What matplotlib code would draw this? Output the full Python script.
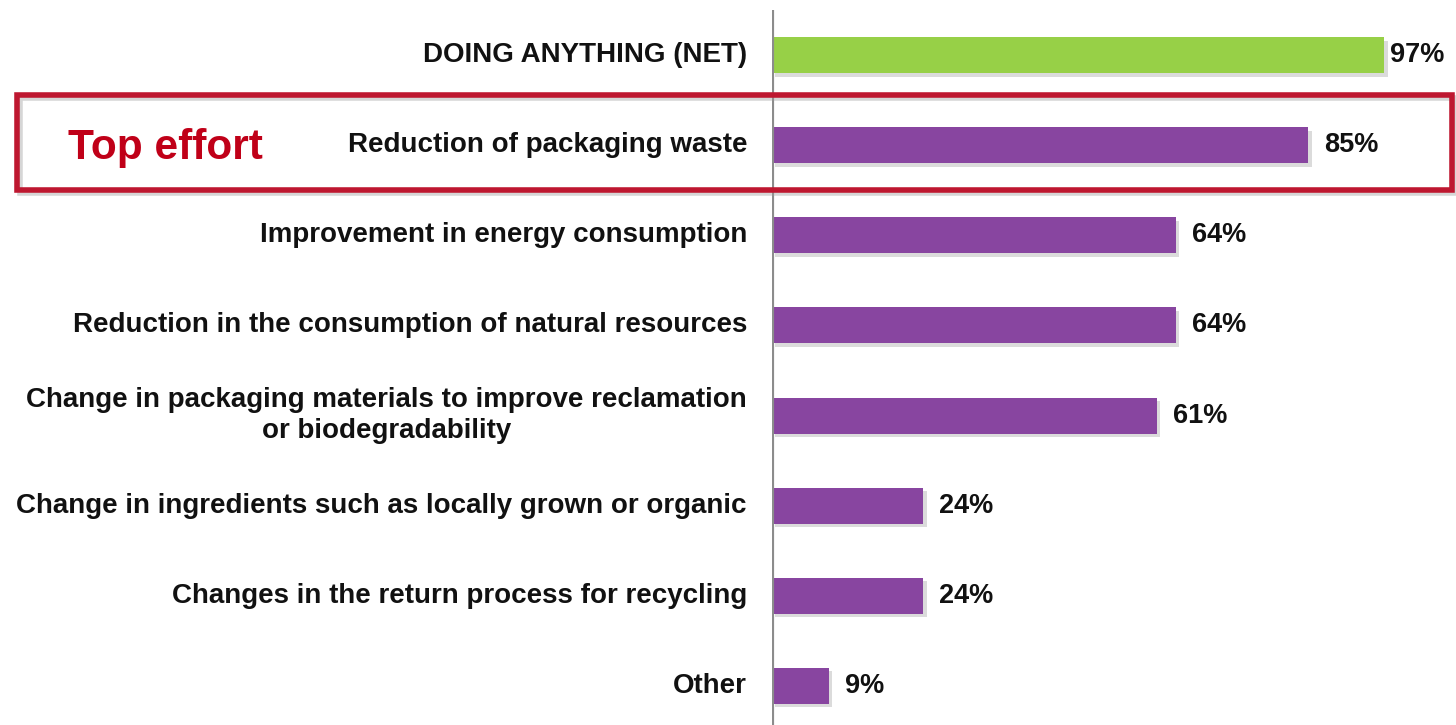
import matplotlib.pyplot as plt
from matplotlib.patches import Rectangle
import matplotlib.patheffects as pe

categories = [
    "DOING ANYTHING (NET)",
    "Reduction of packaging waste",
    "Improvement in energy consumption",
    "Reduction in the consumption of natural resources",
    "Change in packaging materials to improve reclamation\nor biodegradability",
    "Change in ingredients such as locally grown or organic",
    "Changes in the return process for recycling",
    "Other",
]
values = [97, 85, 64, 64, 61, 24, 24, 9]
bar_colors = ["#97D047"] + ["#8845A0"] * 7
callout = "Top effort"

plt.rcParams['font.family'] = ['Liberation Sans', 'DejaVu Sans']

W, H = 1456, 725
PX_PER_PCT = 6.31
fig = plt.figure(figsize=(W / 100, H / 100), dpi=100)
fig.patch.set_facecolor("white")

# axes start at the grey baseline
ax = fig.add_axes([772 / W, 0, 681 / W, 715 / H])
ax.set_xlim(0, 681 / PX_PER_PCT)
ax.set_ylim(7.433, -0.5)

shadow = [pe.SimplePatchShadow(offset=(2.5, -2.5), shadow_rgbFace="#888888", alpha=0.3), pe.Normal()]
ypos = list(range(len(categories)))
bars = ax.barh(ypos, values, height=0.4, color=bar_colors, zorder=2)
for b in bars:
    b.set_path_effects(shadow)

# value labels; the top one is squeezed against the right edge
gaps = [6, 16, 16, 16, 16, 16, 16, 16]
for y, v, g in zip(ypos, values, gaps):
    ax.text(v + g / PX_PER_PCT, y, f"{v}%", va="center", ha="left", fontsize=19.5,
            fontweight="bold", color="#111111", clip_on=False)

for y, label in zip(ypos, categories):
    ax.text(-25 / PX_PER_PCT, y, label, va="center", ha="right", multialignment="center",
            fontsize=20, fontweight="bold", color="#111111", clip_on=False,
            linespacing=1.25)

ax.axvline(0, color="#8C8C8C", lw=3, zorder=3)
for s in ax.spines.values():
    s.set_visible(False)
ax.set_xticks([])
ax.set_yticks([])
ax.patch.set_alpha(0)

# highlight box around the top effort row
x0, y0, bw, bh = 17 / W, 1 - 190 / H, (1452 - 17) / W, 95 / H
fig.add_artist(Rectangle((x0 + 2.5 / W, y0 - 2.5 / H), bw, bh, transform=fig.transFigure,
                         fill=False, edgecolor="#999999", alpha=0.4, lw=4, zorder=4))
fig.add_artist(Rectangle((x0, y0), bw, bh, transform=fig.transFigure,
                         fill=False, edgecolor="#BE1730", lw=4, zorder=5))
fig.text(68 / W, 1 - 148 / H, callout, ha="left", va="center", fontsize=30.5,
         fontweight="bold", color="#C00018")

fig.savefig("out.png", dpi=100, facecolor="white")
